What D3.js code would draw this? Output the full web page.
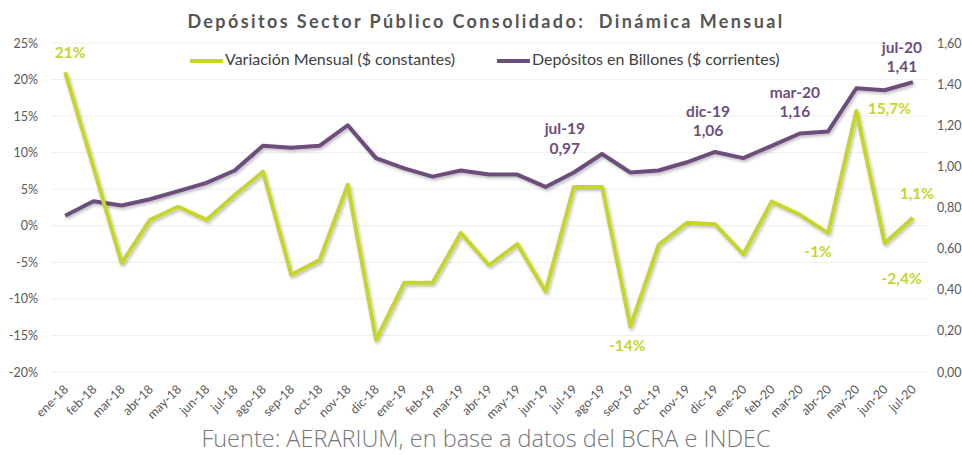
<!DOCTYPE html>
<html><head><meta charset="utf-8">
<script src="https://cdn.jsdelivr.net/npm/d3@7"></script>
<style>
html,body{margin:0;padding:0;background:#fff;}
svg{display:block;}
</style></head>
<body>
<svg id="chart" width="962" height="455"></svg>
<script>
const months = ["ene-18","feb-18","mar-18","abr-18","may-18","jun-18","jul-18","ago-18","sep-18","oct-18","nov-18","dic-18",
"ene-19","feb-19","mar-19","abr-19","may-19","jun-19","jul-19","ago-19","sep-19","oct-19","nov-19","dic-19",
"ene-20","feb-20","mar-20","abr-20","may-20","jun-20","jul-20"];
// Variación Mensual ($ constantes), in %
const variacion = [21, 8, -5.1, 0.8, 2.6, 0.8, 4.2, 7.4, -6.7, -4.7, 5.6, -15.6,
 -7.8, -7.8, -1, -5.4, -2.5, -9, 5.3, 5.3, -13.8, -2.6, 0.4, 0.2,
 -3.9, 3.3, 1.5, -1, 15.7, -2.4, 1.1];
// Depósitos en Billones ($ corrientes)
const depositos = [0.76, 0.83, 0.81, 0.84, 0.88, 0.92, 0.98, 1.10, 1.09, 1.10, 1.20, 1.04,
 0.99, 0.95, 0.98, 0.96, 0.96, 0.90, 0.97, 1.06, 0.97, 0.98, 1.02, 1.07,
 1.04, 1.10, 1.16, 1.17, 1.38, 1.37, 1.41];
const leftTicks = [-20,-15,-10,-5,0,5,10,15,20,25];
const rightTicks = [0,0.2,0.4,0.6,0.8,1.0,1.2,1.4,1.6];
const greenLabels = [{m:"ene-18",t:"21%"},{m:"sep-19",t:"-14%"},{m:"abr-20",t:"-1%"},{m:"may-20",t:"15,7%"},{m:"jun-20",t:"-2,4%"},{m:"jul-20",t:"1,1%"}];
const purpleLabels = [{m:"jul-19",t:"0,97"},{m:"dic-19",t:"1,06"},{m:"mar-20",t:"1,16"},{m:"jul-20",t:"1,41"}];
const title = "Depósitos Sector Público Consolidado:  Dinámica Mensual";
const legendNames = ["Variación Mensual ($ constantes)","Depósitos en Billones ($ corrientes)"];
const source = "Fuente: AERARIUM, en base a datos del BCRA e INDEC";

// layout
const W=962,H=455, L=51, R=927, T=43, B=372;
const GREEN="#c6d52d", PURPLE="#6d4e7b";
const greenOff = {"ene-18":[5,-18],"sep-19":[-3,20],"abr-20":[-10,20],"may-20":[33,-1],"jun-20":[17,37],"jul-20":[4,-23]};
const purpleOff = {"jul-19":[-9,-23],"dic-19":[-7,-20],"mar-20":[-5,-20],"jul-20":[-11,-14]};

const svg=d3.select("#chart");
const defs=svg.append("defs");
const f=defs.append("filter").attr("id","sh").attr("x","-10%").attr("y","-10%").attr("width","120%").attr("height","130%");
f.append("feDropShadow").attr("dx",1.5).attr("dy",2).attr("stdDeviation",1.5).attr("flood-color","#000").attr("flood-opacity",0.25);

const x=d3.scaleBand().domain(months).range([L,R]);
const cx=m=>x(m)+x.bandwidth()/2;
const yL=d3.scaleLinear().domain([-20,25]).range([B,T]);
const yR=d3.scaleLinear().domain([0,1.6]).range([B,T]);

// gridlines
svg.append("g").selectAll("line").data(leftTicks).join("line")
 .attr("x1",L).attr("x2",R).attr("y1",d=>yL(d)).attr("y2",d=>yL(d))
 .attr("stroke","#efefef").attr("stroke-width",1);

const font="Lato, 'Open Sans', sans-serif";
// left axis
const axL=svg.append("g").attr("transform",`translate(${L},0)`)
 .call(d3.axisLeft(yL).tickValues(leftTicks).tickSize(0).tickPadding(13).tickFormat(d=>d+"%"));
axL.select(".domain").remove();
axL.selectAll("text").attr("font-family",font).attr("font-size",12.5).attr("fill","#595959");
// right axis
const axR=svg.append("g").attr("transform",`translate(${R},0)`)
 .call(d3.axisRight(yR).tickValues(rightTicks).tickSize(0).tickPadding(10).tickFormat(d=>d3.format(".2f")(d).replace(".",",")));
axR.select(".domain").remove();
axR.selectAll("text").attr("font-family",font).attr("font-size",12.5).attr("fill","#595959");
// x axis
const axX=svg.append("g").attr("transform",`translate(0,${B})`)
 .call(d3.axisBottom(x).tickSize(0).tickPadding(0));
axX.select(".domain").remove();
axX.selectAll("text").attr("font-family",font).attr("font-size",12.5).attr("fill","#595959")
 .attr("text-anchor","end").attr("dy",0).attr("y",0)
 .attr("transform","translate(4,18) rotate(-45)");

// lines
const lineG=d3.line().x((d,i)=>cx(months[i])).y(d=>yL(d));
const lineP=d3.line().x((d,i)=>cx(months[i])).y(d=>yR(d));
svg.append("path").datum(depositos).attr("d",lineP).attr("fill","none").attr("stroke",PURPLE)
 .attr("stroke-width",4).attr("stroke-linejoin","round").attr("filter","url(#sh)");
svg.append("path").datum(variacion).attr("d",lineG).attr("fill","none").attr("stroke",GREEN)
 .attr("stroke-width",4).attr("stroke-linejoin","round").attr("filter","url(#sh)");

// labels
svg.append("g").selectAll("text").data(greenLabels).join("text")
 .attr("x",d=>cx(d.m)+greenOff[d.m][0])
 .attr("y",d=>yL(variacion[months.indexOf(d.m)])+greenOff[d.m][1])
 .attr("text-anchor","middle").attr("dominant-baseline","middle")
 .attr("font-family",font).attr("font-weight","bold").attr("font-size",15.5).attr("fill",GREEN).text(d=>d.t);
const pl=svg.append("g").selectAll("text").data(purpleLabels).join("text")
 .attr("x",d=>cx(d.m)+purpleOff[d.m][0])
 .attr("y",d=>yR(depositos[months.indexOf(d.m)])+purpleOff[d.m][1])
 .attr("text-anchor","middle").attr("dominant-baseline","middle")
 .attr("font-family",font).attr("font-weight","bold").attr("font-size",15.5).attr("fill",PURPLE);
pl.append("tspan").attr("x",d=>cx(d.m)+purpleOff[d.m][0]).attr("dy","-1.25em").text(d=>d.m);
pl.append("tspan").attr("x",d=>cx(d.m)+purpleOff[d.m][0]).attr("dy","1.25em").text(d=>d.t);

// title
svg.append("text").attr("x",486).attr("y",28).attr("text-anchor","middle")
 .attr("font-family",font).attr("font-weight","bold").attr("font-size",18).attr("letter-spacing","2.4px")
 .attr("fill","#555").attr("xml:space","preserve").style("white-space","pre").text(title);

// legend
const lg=[{x:190,c:GREEN,t:legendNames[0]},{x:497,c:PURPLE,t:legendNames[1]}];
const lgG=svg.append("g").selectAll("g").data(lg).join("g").attr("transform",d=>`translate(${d.x},61)`);
lgG.append("line").attr("x1",0).attr("x2",33).attr("stroke",d=>d.c).attr("stroke-width",4);
lgG.append("text").attr("x",35).attr("y",0).attr("dominant-baseline","middle")
 .attr("font-family",font).attr("font-size",16).attr("fill","#404040").text(d=>d.t);

// source
svg.append("text").attr("x",486).attr("y",447).attr("text-anchor","middle")
 .attr("font-family","'Open Sans', sans-serif").attr("font-weight",300).attr("font-size",23.5)
 .attr("fill","#777").text(source);
</script>
</body></html>
